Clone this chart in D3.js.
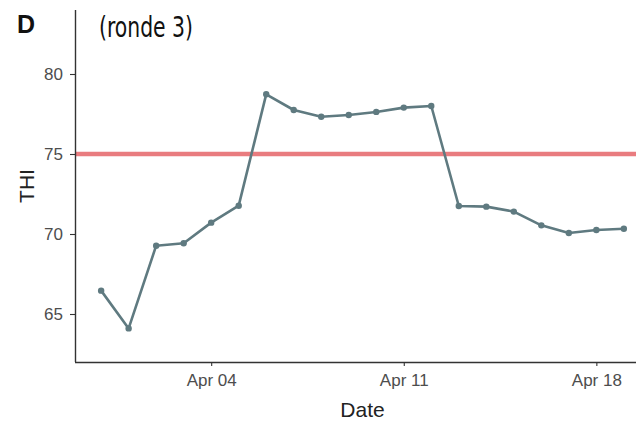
<!DOCTYPE html>
<html>
<head>
<meta charset="utf-8">
<script src="https://cdn.jsdelivr.net/npm/d3@7"></script>
<style>
  html, body { margin: 0; padding: 0; background: #fff; }
  svg { display: block; }
</style>
</head>
<body>
<svg id="chart" width="636" height="421"></svg>
<script>
// Daily THI readings, round 3
const dates = [
  "2021-03-31", "2021-04-01", "2021-04-02", "2021-04-03", "2021-04-04",
  "2021-04-05", "2021-04-06", "2021-04-07", "2021-04-08", "2021-04-09",
  "2021-04-10", "2021-04-11", "2021-04-12", "2021-04-13", "2021-04-14",
  "2021-04-15", "2021-04-16", "2021-04-17", "2021-04-18", "2021-04-19"
];
const thi = [
  66.46, 64.1, 69.27, 69.42, 70.71,
  71.77, 78.73, 77.75, 77.33, 77.44,
  77.63, 77.9, 78.0, 71.75, 71.71,
  71.4, 70.54, 70.06, 70.25, 70.33
];
const threshold = 75;
const yTicks = [65, 70, 75, 80];
const xTickDates = ["2021-04-04", "2021-04-11", "2021-04-18"];

const parse = d3.utcParse("%Y-%m-%d");
const data = dates.map((d, i) => ({ date: parse(d), value: thi[i] }));

const svg = d3.select("#chart");
const plotLeft = 75, plotRight = 650, plotTop = 10, plotBottom = 362;

// ggplot-style 5% padding around the date range
const ext = d3.extent(data, d => d.date);
const pad = (ext[1] - ext[0]) * 0.05;
const x = d3.scaleUtc()
  .domain([new Date(+ext[0] - pad), new Date(+ext[1] + pad)])
  .range([plotLeft, plotRight]);
const y = d3.scaleLinear().domain([62, 84]).range([plotBottom, plotTop]);

const tickFont = "'Liberation Sans', Arial, sans-serif";

// Threshold line
svg.append("line")
  .attr("x1", plotLeft).attr("x2", plotRight)
  .attr("y1", y(threshold)).attr("y2", y(threshold))
  .attr("stroke", "#e97c7f").attr("stroke-width", 4.5);

// Series line and points
svg.append("path")
  .datum(data)
  .attr("fill", "none")
  .attr("stroke", "#5f7a80")
  .attr("stroke-width", 2.6)
  .attr("stroke-linejoin", "round")
  .attr("d", d3.line().x(d => x(d.date)).y(d => y(d.value)));

svg.append("g").selectAll("circle")
  .data(data)
  .join("circle")
  .attr("cx", d => x(d.date))
  .attr("cy", d => y(d.value))
  .attr("r", 3.2)
  .attr("fill", "#5f7a80");

// Axes
const xAxis = svg.append("g")
  .attr("transform", `translate(0,${plotBottom})`)
  .call(d3.axisBottom(x)
    .tickValues(xTickDates.map(parse))
    .tickFormat(d3.utcFormat("%b %d"))
    .tickSize(4).tickPadding(8));
const yAxis = svg.append("g")
  .attr("transform", `translate(${plotLeft},0)`)
  .call(d3.axisLeft(y).tickValues(yTicks).tickSize(5).tickPadding(7));

[xAxis, yAxis].forEach(g => {
  g.select(".domain").attr("stroke", "#333").attr("stroke-width", 1.4);
  g.selectAll(".tick line").attr("stroke", "#333").attr("stroke-width", 1.1);
  g.selectAll(".tick text")
    .attr("fill", "#4d4d4d")
    .style("font-family", tickFont)
    .style("font-size", "17px");
});
xAxis.select(".domain").attr("d", `M${plotLeft},0.5H${plotRight}`);
yAxis.select(".domain").attr("d", `M0.5,${plotBottom}V${plotTop}`);

// Axis titles
svg.append("text")
  .attr("x", (plotLeft + plotRight) / 2).attr("y", 417)
  .attr("text-anchor", "middle")
  .style("font-family", tickFont).style("font-size", "21px")
  .attr("fill", "#222")
  .text("Date");

svg.append("text")
  .attr("transform", `translate(34,${(plotTop + plotBottom) / 2}) rotate(-90)`)
  .attr("text-anchor", "middle")
  .style("font-family", tickFont).style("font-size", "21px")
  .attr("fill", "#222")
  .text("THI");

// Panel tag and subtitle
svg.append("text")
  .attr("x", 17).attr("y", 33)
  .style("font-family", tickFont).style("font-size", "25px")
  .style("font-weight", "bold")
  .attr("fill", "#111")
  .text("D");

svg.append("text")
  .attr("x", 99).attr("y", 37)
  .attr("textLength", 94)
  .attr("lengthAdjust", "spacingAndGlyphs")
  .style("font-family", "'Liberation Sans Narrow', 'DejaVu Sans Condensed', 'Roboto Condensed', sans-serif")
  .style("font-size", "29px")
  .attr("fill", "#111")
  .text("(ronde 3)");
</script>
</body>
</html>
